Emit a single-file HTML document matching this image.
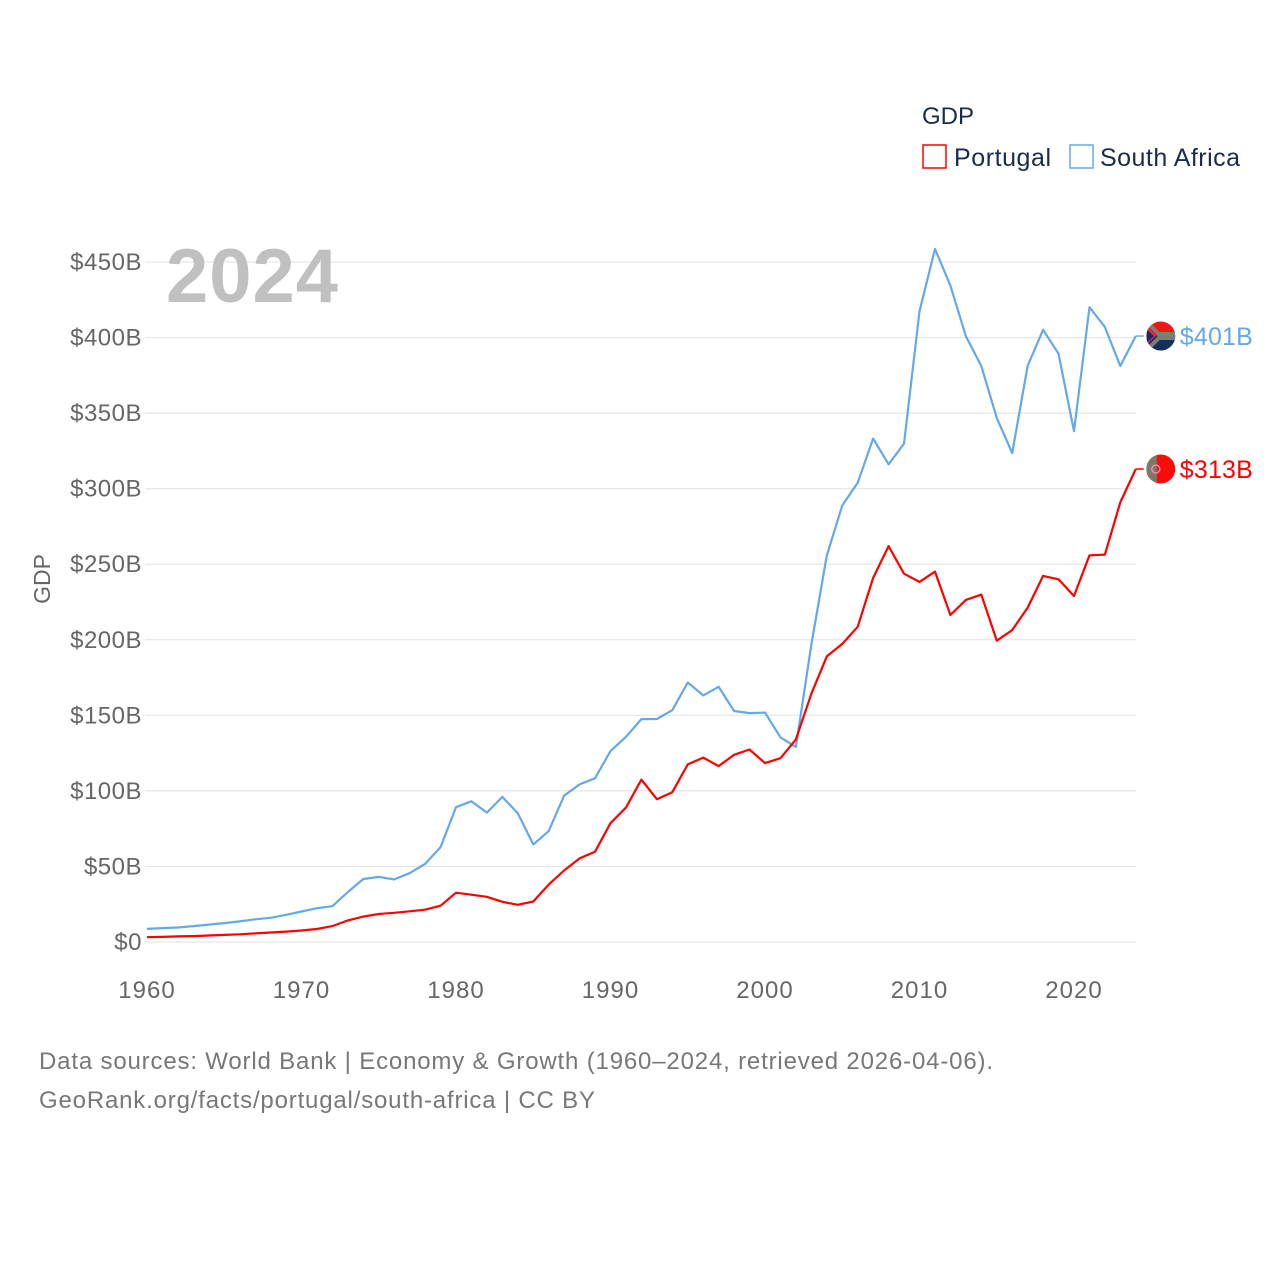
<!DOCTYPE html>
<html><head><meta charset="utf-8">
<style>
body{margin:0;background:#fff;font-family:"Liberation Sans",sans-serif}
svg text{font-family:"Liberation Sans",sans-serif}
</style></head>
<body>
<svg id="chart" width="1280" height="1280" viewBox="0 0 1280 1280" xmlns="http://www.w3.org/2000/svg">
<rect width="1280" height="1280" fill="#fff"/>
<g id="grid"></g>
<g id="yticks"></g>
<g id="xticks"></g>
<text x="166" y="302" font-size="76" font-weight="bold" fill="#c0c0c0" textLength="172">2024</text>
<text transform="translate(50,579) rotate(-90)" text-anchor="middle" font-size="23" fill="#666">GDP</text>
<g id="series"></g>
<g>
<text x="922" y="124" font-size="24" fill="#1a2b4c">GDP</text>
<g>
<rect x="923" y="145" width="23" height="23" fill="none" stroke="#ff0000" stroke-width="1.5"/>
<text x="954" y="166" font-size="25" fill="#1a2b4c" textLength="97">Portugal</text></g>
<g>
<rect x="1070" y="145" width="23" height="23" fill="none" stroke="#64a8e8" stroke-width="1.5"/>
<text x="1100" y="166" font-size="25" fill="#1a2b4c" textLength="140">South Africa</text></g>
</g>
<g>
<text x="39" y="1069" font-size="24" fill="#777" textLength="954">Data sources: World Bank | Economy &amp; Growth (1960–2024, retrieved 2026-04-06).</text>
<text x="39" y="1108" font-size="24" fill="#777" textLength="556">GeoRank.org/facts/portugal/south-africa | CC BY</text>
</g>
</svg>
<script>
const years=[];for(let y=1960;y<=2024;y++)years.push(y);
const southAfrica=[8.7,9.2,9.6,10.5,11.5,12.5,13.6,15.0,16.0,18.0,20.2,22.4,23.7,33.1,41.7,43.1,41.4,45.5,51.7,62.8,89.2,93.1,85.6,96.0,85.2,64.5,73.4,96.8,104.3,108.3,126.3,135.8,147.5,147.6,153.4,171.7,163.2,168.9,152.9,151.5,151.8,135.4,129.1,197.0,255.8,288.9,303.9,333.1,316.1,329.8,417.4,458.7,434.4,400.9,381.2,346.7,323.6,381.4,405.1,389.3,338.0,420.1,406.9,381.2,401];
const portugal=[3.2,3.4,3.7,3.9,4.3,4.7,5.1,5.7,6.3,6.9,7.6,8.6,10.5,14.3,16.8,18.5,19.3,20.3,21.4,24.0,32.6,31.3,29.9,26.6,24.6,26.8,38.0,47.3,55.3,59.7,78.6,89.0,107.5,94.5,99.1,117.5,122.0,116.4,123.9,127.4,118.4,121.6,134.1,164.3,189.0,197.3,208.6,240.9,262.0,243.7,238.3,245.1,216.4,226.4,229.9,199.4,206.4,221.3,242.3,240.0,229.0,255.9,256.4,290.9,313];
const yTicks=[0,50,100,150,200,250,300,350,400,450];
const yTickLabels=["$0","$50B","$100B","$150B","$200B","$250B","$300B","$350B","$400B","$450B"];
const xTicks=[1960,1970,1980,1990,2000,2010,2020];
const x=v=>147+(v-1960)*(1074-147)/60;
const y=v=>942-v*(942-262)/450;
const NS="http://www.w3.org/2000/svg";
function mk(tag,parent,attrs){const e=document.createElementNS(NS,tag);for(const k in attrs)e.setAttribute(k,attrs[k]);parent.appendChild(e);return e;}
const grid=document.getElementById('grid'),yt=document.getElementById('yticks'),xt=document.getElementById('xticks'),ser=document.getElementById('series');
yTicks.forEach((v,i)=>{
 const l=mk('line',grid,{x1:145,x2:1136,y1:y(v),y2:y(v),stroke:'#e6e6e6','stroke-width':1.2});
 
 
 const t=mk('text',yt,{x:142,y:y(v)+8,'text-anchor':'end','font-size':24,fill:'#666','letter-spacing':0.5});
 t.textContent=yTickLabels[i];
 
 
});
xTicks.forEach(v=>{
 const t=mk('text',xt,{x:x(v),y:998,'text-anchor':'middle','font-size':24,fill:'#666','letter-spacing':1});
 t.textContent=v;
 
 
});
function drawSeries(vals,color,name,label,flag){
 const g=mk('g',ser,{});
 
 
 const pts=vals.map((v,i)=>x(years[i]).toFixed(1)+','+y(v).toFixed(1)).join(' ');
 const p=mk('polyline',g,{points:pts,fill:'none',stroke:color,'stroke-width':2.2,'stroke-linejoin':'round'});
 
 
 const lx=x(years[years.length-1]),ly=y(vals[vals.length-1]);
 mk('line',g,{x1:lx,x2:lx+8,y1:ly,y2:ly,stroke:color,'stroke-width':1.5});
 const cx=lx+25;
 const fg=mk('g',g,{});
 
 
 flag(fg,cx,ly);
 const t=mk('text',g,{x:cx+19,y:ly+9,'font-size':25,fill:color,textLength:73});
 t.textContent=label;
 
 
}
drawSeries(southAfrica,'#64a8e8','south-africa-series','$401B',(g,cx,cy)=>{
 const r=14.5;
 const cp=mk('clipPath',g,{id:'cpza'});mk('circle',cp,{cx,cy,r});
 const c=mk('g',g,{'clip-path':'url(#cpza)'});
 mk('rect',c,{x:cx-r,y:cy-r,width:2*r,height:r,fill:'#f21515'});
 mk('rect',c,{x:cx-r,y:cy,width:2*r,height:r,fill:'#14305a'});
 mk('path',c,{d:`M${cx-r} ${cy-r} L${cx-2} ${cy-2} L${cx+r} ${cy-2} L${cx+r} ${cy+2} L${cx-2} ${cy+2} L${cx-r} ${cy+r}`,fill:'none',stroke:'#7a8070','stroke-width':4});
 mk('path',c,{d:`M${cx-r} ${cy-8} L${cx-6} ${cy} L${cx-r} ${cy+8} Z`,fill:'#14305a',stroke:'#f28',"stroke-width":1});
});
drawSeries(portugal,'#ff0000','portugal-series','$313B',(g,cx,cy)=>{
 const r=14.5;
 const cp=mk('clipPath',g,{id:'cppt'});mk('circle',cp,{cx,cy,r});
 const c=mk('g',g,{'clip-path':'url(#cppt)'});
 mk('rect',c,{x:cx-r,y:cy-r,width:2*r,height:2*r,fill:'#ff0a0a'});
 mk('rect',c,{x:cx-r,y:cy-r,width:r-4,height:2*r,fill:'#777a68'});
 mk('circle',c,{cx:cx-5,cy,r:4,fill:'none',stroke:'#f8a','stroke-width':1.5});
});
</script>
</body></html>
